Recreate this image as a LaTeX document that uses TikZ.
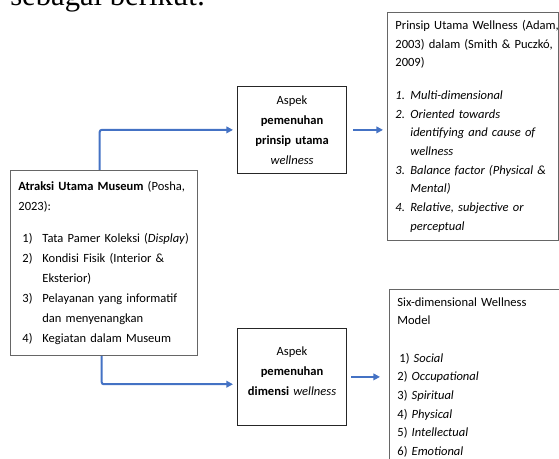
\documentclass[tikz,border=0pt]{standalone}
\usepackage{fontspec}
\setmainfont{Carlito}
\newfontfamily\introfont{Liberation Serif}
\usetikzlibrary{arrows.meta}
\definecolor{officeblue}{HTML}{4472C4}
\newcommand{\numlabel}[2]{\makebox[#1][l]{#2}}

\begin{document}
\begin{tikzpicture}[x=0.75pt, y=0.75pt,
    box/.style={draw=black!60, line width=0.6pt, inner sep=6pt, anchor=north west, align=left},
    midbox/.style={draw=black!85, line width=0.6pt, inner sep=6pt, anchor=north west, align=center,
        text width=70pt, minimum width=81.75pt},
    conn/.style={draw=officeblue, line width=1.5pt, rounded corners=1.5pt,
        -{Triangle[length=5pt, width=5pt]}},
    every node/.style={font=\fontsize{9.4}{15}\selectfont}]
    \useasboundingbox (0, 0) rectangle (559, 459);
    \clip (0, 0) rectangle (559, 459);

    \node (intro) at (10, 453) [anchor=base west, inner sep=0pt, font=\introfont\fontsize{23}{27}\selectfont] {sebagai berikut:};

    \node (attr) at (10, 289) [box, text width=128pt, minimum height=138.75pt] {%
        \mbox{\textbf{Atraksi Utama Museum} (Posha,}\\
        2023):\\[9pt]
        \hspace*{3pt}\numlabel{15pt}{1)}Tata Pamer Koleksi (\textit{Display})\\
        \hspace*{3pt}\numlabel{15pt}{2)}Kondisi Fisik (Interior \&\\
        \hspace*{18pt}Eksterior)\\
        \hspace*{3pt}\numlabel{15pt}{3)}Pelayanan yang informatif\\
        \hspace*{18pt}dan menyenangkan\\
        \hspace*{3pt}\numlabel{15pt}{4)}Kegiatan dalam Museum};

    \node (prinsip) at (237, 373) [midbox, minimum height=65.25pt] {%
        Aspek\\ \textbf{pemenuhan}\\ \textbf{prinsip utama}\\ \textit{wellness}};
    \node (dimensi) at (237, 131) [midbox, minimum height=72.75pt] {%
        Aspek\\ \textbf{pemenuhan}\\ \mbox{\textbf{dimensi} \textit{wellness}}\\[-6pt]\mbox{}};

    \node (wellness) at (387, 447) [box, text width=116pt, minimum height=169.5pt,
        font=\fontsize{9.4}{14}\selectfont] {%
        \mbox{Prinsip Utama Wellness (Adam,}\\
        \mbox{2003) dalam (Smith \& Puczkó,}\\
        2009)\\[10.5pt]
        \textit{\numlabel{11.25pt}{1.}Multi-dimensional}\\
        \textit{\numlabel{11.25pt}{2.}Oriented towards}\\
        \textit{\hspace*{11.25pt}identifying and cause of}\\
        \textit{\hspace*{11.25pt}wellness}\\
        \textit{\numlabel{11.25pt}{3.}Balance factor (Physical \&}\\
        \textit{\hspace*{11.25pt}Mental)}\\
        \textit{\numlabel{11.25pt}{4.}Relative, subjective or}\\
        \textit{\hspace*{11.25pt}perceptual}};

    \node (model) at (389, 170) [box, text width=130pt, font=\fontsize{9.4}{14}\selectfont] {%
        Six-dimensional Wellness\\
        Model\\[14pt]
        \hspace*{1.5pt}1) \textit{Social}\\
        2) \textit{Occupational}\\
        3) \textit{Spiritual}\\
        4) \textit{Physical}\\
        5) \textit{Intellectual}\\
        6) \textit{Emotional}};

    \draw[conn, shorten >=3pt] ([xshift=-3pt]attr.north) |- (prinsip.west);
    \draw[conn, shorten >=3pt] ([xshift=-1.5pt]attr.south) |- ([yshift=-5.5pt]dimensi.west);
    \draw[conn, shorten <=4.5pt, shorten >=3pt] (prinsip.east) -- (prinsip.east -| wellness.west);
    \draw[conn, shorten <=3pt, shorten >=6.75pt] (dimensi.east) -- (dimensi.east -| model.west);
\end{tikzpicture}
\end{document}
